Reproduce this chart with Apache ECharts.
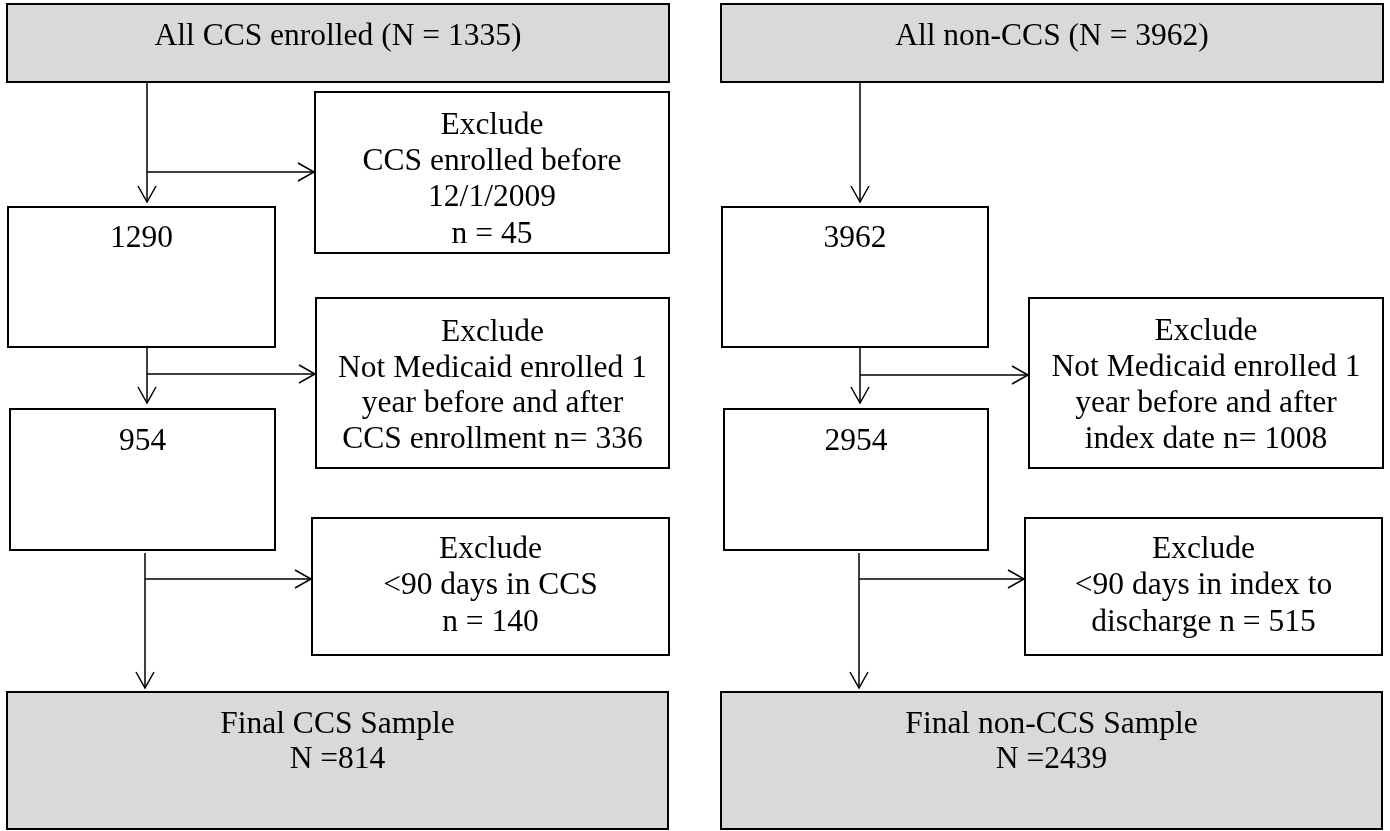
<!DOCTYPE html>
<html>
<head>
<meta charset="utf-8">
<script src="https://cdn.jsdelivr.net/npm/echarts@6/dist/echarts.min.js"></script>
<style>
html,body{margin:0;padding:0;background:#fff;}
#chart{width:1390px;height:831px;}
</style>
</head>
<body>
<div id="chart"></div>
<script>
// ---- data ----
const ccsCounts = [1335, 1290, 954, 814];
const nonCcsCounts = [3962, 3962, 2954, 2439];
const ccsExcluded = [45, 336, 140];
const nonCcsExcluded = [1008, 515];
const ccsExcludeLabels = [
  ["CCS enrolled before", "12/1/2009", "n = "],
  ["Not Medicaid enrolled 1", "year before and after", "CCS enrollment n= "],
  ["<90 days in CCS", "n = "]
];
const nonCcsExcludeLabels = [
  ["Not Medicaid enrolled 1", "year before and after", "index date n= "],
  ["<90 days in index to", "discharge n = "]
];

function excludeText(labels, n) {
  const lines = ["Exclude"].concat(labels.slice(0, -1));
  lines.push(labels[labels.length - 1] + n);
  return lines;
}

const boxTexts = [
  ["All CCS enrolled (N = " + ccsCounts[0] + ")"],
  [String(ccsCounts[1])],
  [String(ccsCounts[2])],
  ["Final CCS Sample", "N =" + ccsCounts[3]],
  excludeText(ccsExcludeLabels[0], ccsExcluded[0]),
  excludeText(ccsExcludeLabels[1], ccsExcluded[1]),
  excludeText(ccsExcludeLabels[2], ccsExcluded[2]),
  ["All non-CCS (N = " + nonCcsCounts[0] + ")"],
  [String(nonCcsCounts[1])],
  [String(nonCcsCounts[2])],
  ["Final non-CCS Sample", "N =" + nonCcsCounts[3]],
  excludeText(nonCcsExcludeLabels[0], nonCcsExcluded[0]),
  excludeText(nonCcsExcludeLabels[1], nonCcsExcluded[1])
];

// ---- layout (canvas units) ----
const GRAY = '#d9d9d9';
const TEXT_DY = 2.5;
const boxLayout = [
  {r: [7, 4, 669, 82], fill: GRAY, ty: 34.5, lh: 35},
  {r: [8, 207, 275, 347], fill: '#fff', ty: 236, lh: 35},
  {r: [10, 409, 275, 550], fill: '#fff', ty: 439, lh: 35},
  {r: [7, 692, 668, 829], fill: GRAY, ty: 722, lh: 35},
  {r: [315, 92, 669, 253], fill: '#fff', ty: 123, lh: 36.3},
  {r: [316, 298, 669, 468], fill: '#fff', ty: 330, lh: 35.8},
  {r: [312, 518, 669, 655], fill: '#fff', ty: 547, lh: 36.5},
  {r: [721, 4, 1383, 82], fill: GRAY, ty: 34.5, lh: 35},
  {r: [722, 207, 988, 347], fill: '#fff', ty: 236, lh: 35},
  {r: [724, 409, 988, 550], fill: '#fff', ty: 439, lh: 35},
  {r: [721, 692, 1382, 829], fill: GRAY, ty: 722, lh: 35},
  {r: [1029, 298, 1383, 468], fill: '#fff', ty: 329, lh: 36},
  {r: [1025, 518, 1382, 655], fill: '#fff', ty: 547, lh: 36.5}
];

// arrows: [x0, y0, x1, y1] (straight, head at end)
const arrowLayout = [
  [147, 82, 147, 202], [147, 172, 314, 172],
  [147, 347, 147, 403], [147, 374, 315, 374],
  [145, 553, 145, 688], [145, 579, 311, 579],
  [860, 82, 860, 202],
  [860, 347, 860, 403], [860, 375, 1028, 375],
  [859, 553, 859, 688], [859, 579, 1024, 579]
];

const FONT = '31.5px "Liberation Serif", "Times New Roman", serif';

const chart = echarts.init(document.getElementById('chart'), null, {renderer: 'canvas'});

const option = {
  animation: false,
  backgroundColor: '#fff',
  grid: {left: 0, right: 0, top: 0, bottom: 0},
  xAxis: {type: 'value', min: 0, max: 1390, show: false},
  yAxis: {type: 'value', min: 0, max: 831, inverse: true, show: false},
  series: [
    {
      type: 'custom',
      silent: true,
      data: boxLayout.map((b, i) => [b.r[0], b.r[1], b.r[2], b.r[3], i]),
      renderItem: function (params, api) {
        const i = api.value(4);
        const b = boxLayout[i];
        const p0 = api.coord([api.value(0), api.value(1)]);
        const p1 = api.coord([api.value(2), api.value(3)]);
        const cx = (p0[0] + p1[0]) / 2;
        const children = [{
          type: 'rect',
          shape: {x: p0[0], y: p0[1], width: p1[0] - p0[0], height: p1[1] - p0[1]},
          style: {fill: b.fill, stroke: '#000', lineWidth: 2}
        }];
        boxTexts[i].forEach((t, k) => {
          const ty = api.coord([0, b.ty + k * b.lh + TEXT_DY])[1];
          children.push({
            type: 'text',
            style: {
              text: t, x: cx, y: ty, font: FONT, fill: '#000',
              textAlign: 'center', textVerticalAlign: 'middle',
              align: 'center', verticalAlign: 'middle'
            }
          });
        });
        return {type: 'group', children: children};
      }
    },
    {
      type: 'custom',
      silent: true,
      data: arrowLayout,
      renderItem: function (params, api) {
        const a = api.coord([api.value(0), api.value(1)]);
        const b = api.coord([api.value(2), api.value(3)]);
        const dx = b[0] - a[0], dy = b[1] - a[1];
        const len = Math.sqrt(dx * dx + dy * dy);
        const ux = dx / len, uy = dy / len;
        const hl = 16, hw = 9;
        const h1 = [b[0] - ux * hl - uy * hw, b[1] - uy * hl + ux * hw];
        const h2 = [b[0] - ux * hl + uy * hw, b[1] - uy * hl - ux * hw];
        return {
          type: 'group',
          children: [
            {type: 'polyline', shape: {points: [a, b]}, style: {stroke: '#000', lineWidth: 1.5, fill: null}},
            {type: 'polyline', shape: {points: [h1, b, h2]}, style: {stroke: '#000', lineWidth: 1.5, fill: null}}
          ]
        };
      }
    }
  ]
};
chart.setOption(option);
</script>
</body>
</html>
